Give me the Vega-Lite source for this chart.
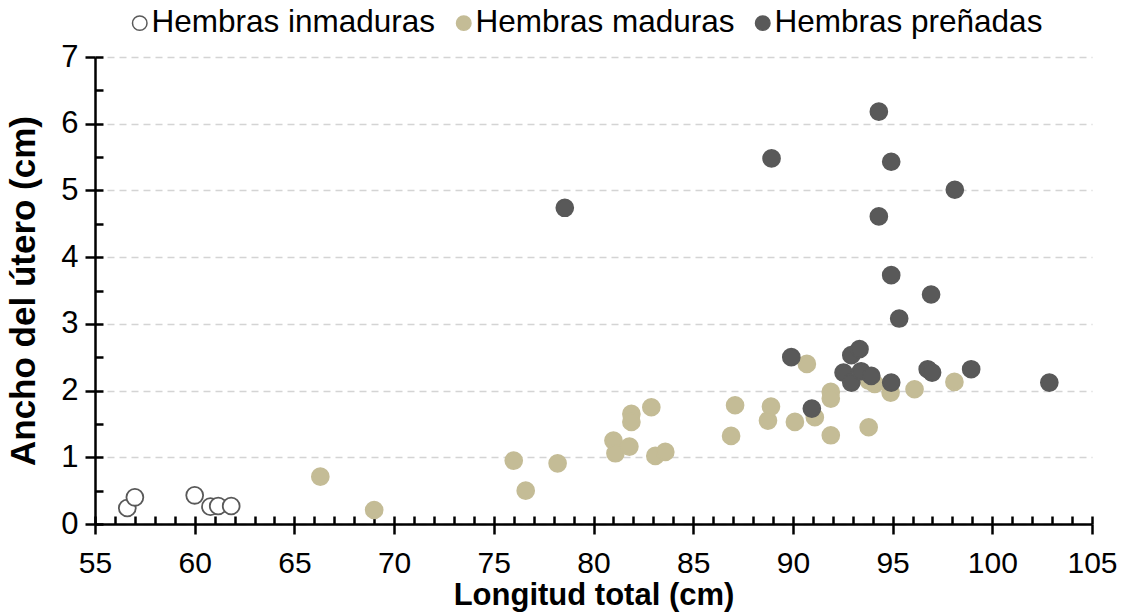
{
  "$schema": "https://vega.github.io/schema/vega-lite/v6.json",
  "autosize": "none",
  "width": 997,
  "height": 467,
  "padding": {"left": 95, "top": 57, "right": 32, "bottom": 90},
  "background": "white",
  "config": {
    "view": {"stroke": null},
    "font": "Liberation Sans",
    "axis": {"labelFont": "Liberation Sans", "titleFont": "Liberation Sans", "labelColor": "black", "titleColor": "black"},
    "legend": {"labelFont": "Liberation Sans"}
  },
  "resolve": {"axis": {"x": "independent", "y": "independent"}},
  "layer": [
    {
      "data": {
        "values": [
          {"lt": 56.62, "au": 0.24, "grupo": "Hembras inmaduras"},
          {"lt": 57.0, "au": 0.40, "grupo": "Hembras inmaduras"},
          {"lt": 60.0, "au": 0.43, "grupo": "Hembras inmaduras"},
          {"lt": 60.79, "au": 0.26, "grupo": "Hembras inmaduras"},
          {"lt": 61.18, "au": 0.27, "grupo": "Hembras inmaduras"},
          {"lt": 61.83, "au": 0.27, "grupo": "Hembras inmaduras"},
          {"lt": 66.3, "au": 0.71, "grupo": "Hembras maduras"},
          {"lt": 69.0, "au": 0.21, "grupo": "Hembras maduras"},
          {"lt": 76.0, "au": 0.95, "grupo": "Hembras maduras"},
          {"lt": 76.6, "au": 0.50, "grupo": "Hembras maduras"},
          {"lt": 78.2, "au": 0.91, "grupo": "Hembras maduras"},
          {"lt": 81.0, "au": 1.25, "grupo": "Hembras maduras"},
          {"lt": 81.1, "au": 1.06, "grupo": "Hembras maduras"},
          {"lt": 81.8, "au": 1.16, "grupo": "Hembras maduras"},
          {"lt": 81.9, "au": 1.65, "grupo": "Hembras maduras"},
          {"lt": 81.9, "au": 1.53, "grupo": "Hembras maduras"},
          {"lt": 82.9, "au": 1.75, "grupo": "Hembras maduras"},
          {"lt": 83.1, "au": 1.02, "grupo": "Hembras maduras"},
          {"lt": 83.6, "au": 1.08, "grupo": "Hembras maduras"},
          {"lt": 86.9, "au": 1.32, "grupo": "Hembras maduras"},
          {"lt": 87.1, "au": 1.78, "grupo": "Hembras maduras"},
          {"lt": 88.75, "au": 1.55, "grupo": "Hembras maduras"},
          {"lt": 88.9, "au": 1.76, "grupo": "Hembras maduras"},
          {"lt": 90.1, "au": 1.53, "grupo": "Hembras maduras"},
          {"lt": 90.7, "au": 2.40, "grupo": "Hembras maduras"},
          {"lt": 91.1, "au": 1.60, "grupo": "Hembras maduras"},
          {"lt": 91.9, "au": 1.98, "grupo": "Hembras maduras"},
          {"lt": 91.9, "au": 1.88, "grupo": "Hembras maduras"},
          {"lt": 91.9, "au": 1.33, "grupo": "Hembras maduras"},
          {"lt": 93.8, "au": 1.45, "grupo": "Hembras maduras"},
          {"lt": 93.8, "au": 2.15, "grupo": "Hembras maduras"},
          {"lt": 94.1, "au": 2.10, "grupo": "Hembras maduras"},
          {"lt": 94.9, "au": 1.97, "grupo": "Hembras maduras"},
          {"lt": 96.1, "au": 2.02, "grupo": "Hembras maduras"},
          {"lt": 98.1, "au": 2.13, "grupo": "Hembras maduras"},
          {"lt": 78.56, "au": 4.74, "grupo": "Hembras preñadas"},
          {"lt": 88.93, "au": 5.48, "grupo": "Hembras preñadas"},
          {"lt": 89.92, "au": 2.50, "grupo": "Hembras preñadas"},
          {"lt": 90.95, "au": 1.73, "grupo": "Hembras preñadas"},
          {"lt": 92.54, "au": 2.27, "grupo": "Hembras preñadas"},
          {"lt": 92.93, "au": 2.53, "grupo": "Hembras preñadas"},
          {"lt": 93.34, "au": 2.62, "grupo": "Hembras preñadas"},
          {"lt": 92.93, "au": 2.12, "grupo": "Hembras preñadas"},
          {"lt": 93.42, "au": 2.29, "grupo": "Hembras preñadas"},
          {"lt": 93.93, "au": 2.22, "grupo": "Hembras preñadas"},
          {"lt": 94.93, "au": 2.12, "grupo": "Hembras preñadas"},
          {"lt": 94.31, "au": 6.18, "grupo": "Hembras preñadas"},
          {"lt": 94.93, "au": 5.43, "grupo": "Hembras preñadas"},
          {"lt": 98.12, "au": 5.01, "grupo": "Hembras preñadas"},
          {"lt": 94.31, "au": 4.61, "grupo": "Hembras preñadas"},
          {"lt": 94.93, "au": 3.73, "grupo": "Hembras preñadas"},
          {"lt": 96.93, "au": 3.44, "grupo": "Hembras preñadas"},
          {"lt": 95.33, "au": 3.08, "grupo": "Hembras preñadas"},
          {"lt": 96.76, "au": 2.32, "grupo": "Hembras preñadas"},
          {"lt": 96.98, "au": 2.27, "grupo": "Hembras preñadas"},
          {"lt": 98.94, "au": 2.32, "grupo": "Hembras preñadas"},
          {"lt": 102.86, "au": 2.12, "grupo": "Hembras preñadas"}
        ]
      },
      "mark": {"type": "circle", "opacity": 1, "size": 285, "strokeWidth": 1.8},
      "encoding": {
        "x": {
          "field": "lt", "type": "quantitative",
          "scale": {"domain": [55, 105], "nice": false, "zero": false},
          "axis": {
            "orient": "bottom",
            "title": "Longitud total (cm)",
            "titleFontSize": 31, "titleFontWeight": "bold", "titlePadding": 2,
            "values": [55, 60, 65, 70, 75, 80, 85, 90, 95, 100, 105],
            "format": "d",
            "labelFontSize": 30, "labelPadding": 14, "labelFlush": false, "labelOverlap": false,
            "tickSize": 10, "tickWidth": 2.5, "tickColor": "black",
            "domainWidth": 2.5, "domainColor": "black",
            "grid": false
          }
        },
        "y": {
          "field": "au", "type": "quantitative",
          "scale": {"domain": [0, 7], "nice": false},
          "axis": {
            "orient": "left",
            "title": "Ancho del útero (cm)",
            "titleFontSize": 35, "titleFontWeight": "bold", "titlePadding": 19,
            "values": [0, 1, 2, 3, 4, 5, 6, 7],
            "format": "d",
            "labelFontSize": 31, "labelPadding": 7, "labelFlush": false, "labelOverlap": false,
            "tickSize": 10, "tickWidth": 2.5, "tickColor": "black",
            "domainWidth": 2.5, "domainColor": "black",
            "grid": true, "gridColor": "#d4d4d4", "gridWidth": 1.6, "gridDash": [7, 5]
          }
        },
        "fill": {
          "field": "grupo", "type": "nominal",
          "scale": {"domain": ["Hembras inmaduras", "Hembras maduras", "Hembras preñadas"], "range": ["white", "#c4bc96", "#595959"]},
          "legend": {
            "title": null, "orient": "none", "direction": "horizontal",
            "legendX": 29, "legendY": -50, "padding": 0,
            "labelFontSize": 31.5, "labelColor": "black", "labelOffset": -4, "labelLimit": 500,
            "columnPadding": 12, "symbolSize": 210, "symbolStrokeWidth": 1.5, "symbolType": "circle"
          }
        },
        "stroke": {
          "field": "grupo", "type": "nominal",
          "scale": {"domain": ["Hembras inmaduras", "Hembras maduras", "Hembras preñadas"], "range": ["#595959", "#c4bc96", "#595959"]},
          "legend": {
            "title": null, "orient": "none", "direction": "horizontal",
            "legendX": 29, "legendY": -50, "padding": 0,
            "labelFontSize": 31.5, "labelColor": "black", "labelOffset": -4, "labelLimit": 500,
            "columnPadding": 12, "symbolSize": 210, "symbolStrokeWidth": 1.5, "symbolType": "circle"
          }
        }
      }
    },
    {
      "mark": {"type": "text", "fontSize": 30, "font": "Liberation Sans", "color": "black", "align": "center", "baseline": "middle"},
      "encoding": {
        "x": {
          "datum": 65.7, "type": "quantitative",
          "axis": {
            "orient": "top", "offset": -467, "title": null, "labels": false, "domain": false, "grid": false,
            "values": [55,56,57,58,59,60,61,62,63,64,65,66,67,68,69,70,71,72,73,74,75,76,77,78,79,80,81,82,83,84,85,86,87,88,89,90,91,92,93,94,95,96,97,98,99,100,101,102,103,104,105],
            "tickSize": 8, "tickWidth": 2.5, "tickColor": "black"
          }
        },
        "y": {
          "datum": 5.46, "type": "quantitative",
          "axis": {
            "orient": "right", "offset": -997, "title": null, "labels": false, "domain": false, "grid": false,
            "values": [0, 0.5, 1, 1.5, 2, 2.5, 3, 3.5, 4, 4.5, 5, 5.5, 6, 6.5, 7],
            "tickSize": 8, "tickWidth": 2.5, "tickColor": "black"
          }
        },
        "text": {"value": "n = 57"}
      }
    }
  ]
}
